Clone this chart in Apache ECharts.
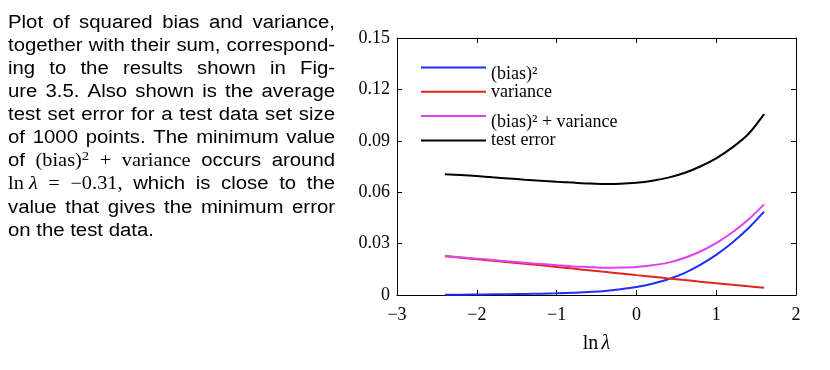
<!DOCTYPE html>
<html><head><meta charset="utf-8">
<script src="https://cdn.jsdelivr.net/npm/echarts@6/dist/echarts.min.js"></script>
<style>html,body{margin:0;padding:0;background:#fff}#c{width:830px;height:370px}</style>
</head><body><div id="c"></div>
<script>
// ---- data ----
const lnLambda = [-2.4,-2.2,-2.0,-1.8,-1.6,-1.4,-1.2,-1.0,-0.8,-0.6,-0.4,-0.2,0.0,0.2,0.4,0.6,0.8,1.0,1.2,1.4,1.6];
const biasSq = [0.0002,0.0002,0.0003,0.0004,0.0005,0.0006,0.0008,0.0010,0.0013,0.0018,0.0024,0.0034,0.0047,0.0066,0.0092,0.0128,0.0176,0.0234,0.0305,0.0388,0.0487];
const variance = [0.0226,0.0218,0.0209,0.0200,0.0191,0.0182,0.0173,0.0164,0.0154,0.0145,0.0135,0.0126,0.0116,0.0107,0.0097,0.0088,0.0078,0.0069,0.0060,0.0051,0.0042];
const biasSqPlusVariance = [0.0228,0.0220,0.0212,0.0204,0.0196,0.0188,0.0181,0.0174,0.0167,0.0163,0.0159,0.0160,0.0163,0.0173,0.0189,0.0216,0.0254,0.0303,0.0365,0.0439,0.0529];
const testError = [0.0705,0.0700,0.0694,0.0687,0.0680,0.0673,0.0667,0.0661,0.0656,0.0651,0.0648,0.0649,0.0655,0.0667,0.0685,0.0712,0.0750,0.0798,0.0860,0.0938,0.1056];
const seriesNames = ['(bias)²', 'variance', '(bias)² + variance', 'test error'];
const seriesColors = ['#1f2ff5', '#e0261e', '#e040f0', '#000000'];
const xAxisRange = [-3, 2, 1];
const yAxisRange = [0, 0.15, 0.03];
const xAxisTitle = ['ln', 'λ'];
const paragraphLines = [
  'Plot of squared bias and variance,',
  'together with their sum, correspond-',
  'ing to the results shown in Fig-',
  'ure 3.5. Also shown is the average',
  'test set error for a test data set size',
  'of 1000 points. The minimum value',
  'of $(bias)^2$ $+$ $variance$ occurs around',
  '$ln~λ$ $=$ $−0.31,$ which is close to the',
  'value that gives the minimum error',
  'on the test data.'
];

// ---- paragraph layout (justified text) ----
const SX = 1.13, FS = 18;
const fonts = {
  sans: { font: FS + 'px "Liberation Sans"', mid: 0.3465 * FS, dy: 0 },
  serif: { font: FS + 'px "Liberation Serif"', mid: 0.3375 * FS, dy: 0 },
  serifIt: { font: 'italic ' + FS + 'px "Liberation Serif"', mid: 0.3375 * FS, dy: 0 },
  sup: { font: '13px "Liberation Serif"', mid: 0.3375 * 13, dy: -6.5 }
};
const mctx = document.createElement('canvas').getContext('2d');
function measure(t, f) { mctx.font = fonts[f].font; return mctx.measureText(t).width * SX; }
function parseWord(w) {
  if (w.length > 1 && w[0] === '$' && w[w.length - 1] === '$') {
    const s = w.slice(1, -1).replace(/~/g, ' ');
    const segs = []; let buf = '';
    for (let i = 0; i < s.length; i++) {
      const ch = s[i];
      if (ch === '^') { if (buf) segs.push({ t: buf, f: 'serif' }); buf = ''; segs.push({ t: s[i + 1], f: 'sup' }); i++; }
      else if (ch === 'λ') { if (buf) segs.push({ t: buf, f: 'serif' }); buf = ''; segs.push({ t: ch, f: 'serifIt' }); }
      else buf += ch;
    }
    if (buf) segs.push({ t: buf, f: 'serif' });
    return segs;
  }
  return [{ t: w, f: 'sans' }];
}
const textLeft = 8, textRight = 335, baseline0 = 29, lineStep = 23.1;
const graphicEls = [];
paragraphLines.forEach((line, li) => {
  const words = line.split(' ').map(parseWord);
  const widths = words.map(segs => segs.reduce((a, s) => a + measure(s.t, s.f), 0));
  const total = widths.reduce((a, b) => a + b, 0);
  const last = li === paragraphLines.length - 1;
  const gap = last ? measure(' ', 'sans') : (textRight - textLeft - total) / (words.length - 1);
  const base = baseline0 + li * lineStep;
  let x = textLeft;
  words.forEach((segs, wi) => {
    let sx = x;
    segs.forEach(s => {
      const fo = fonts[s.f];
      graphicEls.push({
        type: 'text', x: sx, y: base - fo.mid + fo.dy, scaleX: SX, silent: true,
        style: { text: s.t, font: fo.font, fill: '#000', textAlign: 'left', textVerticalAlign: 'middle', align: 'left', verticalAlign: 'middle' }
      });
      sx += measure(s.t, s.f);
    });
    x += widths[wi] + gap;
  });
});

// ---- chart ----
const serifFont = 'Liberation Serif';
function fmtMinus(v) { return v < 0 ? '\u2212' + Math.abs(v) : String(v); }
const dataSets = [biasSq, variance, biasSqPlusVariance, testError];
const series = seriesNames.map((name, i) => ({
  name, type: 'line', smooth: 0.3, showSymbol: false, symbol: 'none',
  data: lnLambda.map((x, j) => [x, dataSets[i][j]]),
  lineStyle: { width: 2, color: seriesColors[i] },
  itemStyle: { color: seriesColors[i] },
  z: 2 + i
}));
const axisCommon = {
  type: 'value',
  axisLine: { show: true, onZero: false, lineStyle: { color: '#000', width: 1 } },
  axisTick: { show: true, inside: true, length: 5, lineStyle: { color: '#000', width: 1 } },
  splitLine: { show: false }
};
const option = {
  animation: false,
  backgroundColor: '#fff',
  grid: { left: 397, right: 34, top: 38, bottom: 75 },
  legend: {
    data: seriesNames, orient: 'vertical', left: 421, top: 52, padding: 0,
    itemWidth: 65, itemHeight: 2, itemGap: -1.2, icon: 'rect',
    selectedMode: false,
    formatter: name => (name.indexOf('²') >= 0 ? '{s|' + name + '}' : '{n|' + name + '}'),
    textStyle: {
      color: '#000', fontFamily: serifFont, fontSize: 18, lineHeight: 20,
      rich: {
        s: { color: '#000', fontFamily: serifFont, fontSize: 18, lineHeight: 20, padding: [13, 0, 0, 0] },
        n: { color: '#000', fontFamily: serifFont, fontSize: 18, lineHeight: 20 }
      }
    }
  },
  xAxis: [
    Object.assign({}, axisCommon, {
      min: xAxisRange[0], max: xAxisRange[1], interval: xAxisRange[2], position: 'bottom',
      axisLabel: { formatter: fmtMinus, fontFamily: serifFont, fontSize: 18, color: '#000', margin: 11 },
      name: '{a|' + xAxisTitle[0] + '} {b|' + xAxisTitle[1] + '}',
      nameLocation: 'middle', nameGap: 39,
      nameTextStyle: { rich: {
        a: { fontFamily: serifFont, fontSize: 20, color: '#000' },
        b: { fontFamily: serifFont, fontSize: 20, fontStyle: 'italic', color: '#000' }
      } }
    }),
    Object.assign({}, axisCommon, {
      min: xAxisRange[0], max: xAxisRange[1], interval: xAxisRange[2], position: 'top',
      axisLabel: { show: false }
    })
  ],
  yAxis: [
    Object.assign({}, axisCommon, {
      min: yAxisRange[0], max: yAxisRange[1], interval: yAxisRange[2], position: 'left',
      axisLabel: { formatter: v => (v === 0 ? '0' : v.toFixed(2)), fontFamily: serifFont, fontSize: 18, color: '#000', margin: 7 }
    }),
    Object.assign({}, axisCommon, {
      min: yAxisRange[0], max: yAxisRange[1], interval: yAxisRange[2], position: 'right',
      axisLabel: { show: false }
    })
  ],
  graphic: { elements: graphicEls },
  series
};
const chart = echarts.init(document.getElementById('c'), null, { renderer: 'canvas' });
chart.setOption(option);
</script>
</body></html>
